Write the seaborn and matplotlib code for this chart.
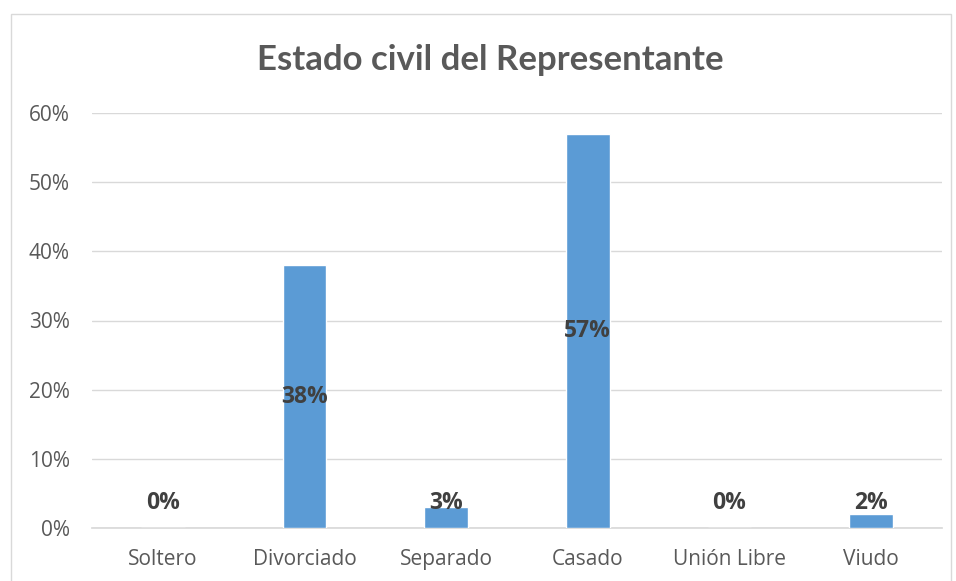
import numpy as np
import pandas as pd
import matplotlib
matplotlib.use("Agg")
import matplotlib.pyplot as plt
from matplotlib.patches import Rectangle
from matplotlib.ticker import PercentFormatter
import seaborn as sns

## datos
categorias = ['Soltero', 'Divorciado', 'Separado', 'Casado', 'Unión Libre', 'Viudo']
porcentajes = [0, 38, 3, 57, 0, 2]
titulo = 'Estado civil del Representante'

df = pd.DataFrame({'estado': categorias, 'pct': porcentajes})

sns.set_theme(style='white')
plt.rcParams['font.family'] = ['Open Sans', 'DejaVu Sans']

fig = plt.figure(figsize=(9.56, 5.81), dpi=100)
ax = fig.add_axes([92 / 956, 53 / 581, 850 / 956, 415 / 581])

sns.barplot(data=df, x='estado', y='pct', color='#5B9BD5', width=0.31,
            saturation=1, ax=ax, zorder=3)

ax.set_ylim(0, 60)
ax.set_yticks(np.arange(0, 61, 10))
ax.yaxis.set_major_formatter(PercentFormatter(decimals=0))
ax.grid(axis='y', color='#D9D9D9', linewidth=1, zorder=0)
ax.set_xlabel('')
ax.set_ylabel('')
for s in ['top', 'right', 'left']:
    ax.spines[s].set_visible(False)
ax.spines['bottom'].set_color('#D9D9D9')
ax.tick_params(axis='both', length=0, labelsize=15, colors='#595959')
ax.tick_params(axis='x', pad=15)
ax.tick_params(axis='y', pad=16)

# etiquetas de datos (centro, sin bajar del eje)
for i, v in enumerate(porcentajes):
    ax.text(i, max(v / 2, 3.6), f'{v}%', ha='center', va='center',
            fontsize=16.5, fontweight='bold', color='#404040', zorder=4)

fig.text(490 / 956, 1 - 60 / 581, titulo, ha='center', va='center',
         fontsize=25, fontweight='bold', color='#595959', family=['Lato'])

# borde del grafico
fig.patches.append(Rectangle((11 / 956, -0.05), 940 / 956, 1 - 14 / 581 + 0.05,
                             transform=fig.transFigure, fill=False,
                             edgecolor='#D9D9D9', linewidth=1))

fig.savefig('out.png', dpi=100)
